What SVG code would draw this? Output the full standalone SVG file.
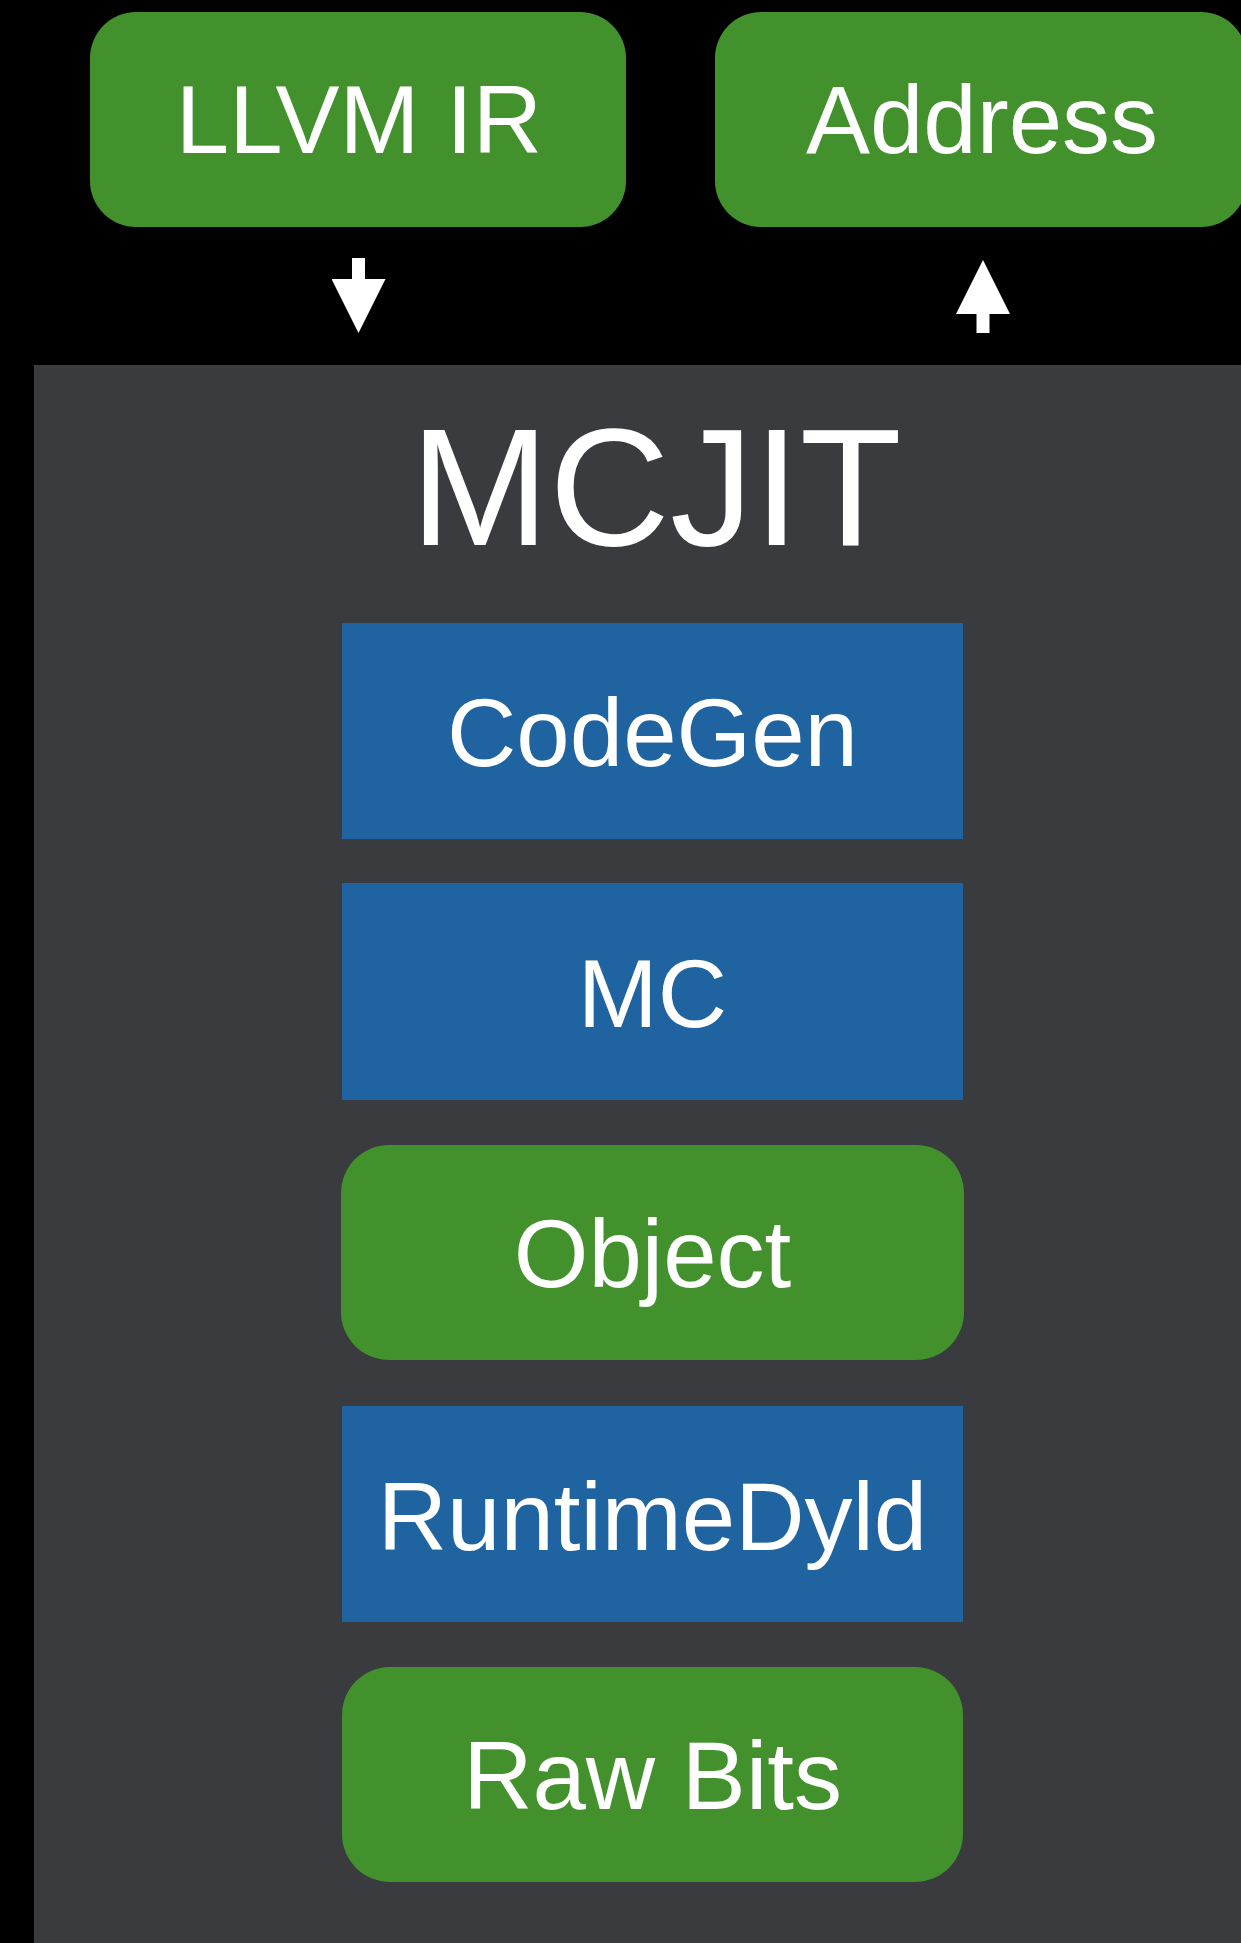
<svg xmlns="http://www.w3.org/2000/svg" width="1241" height="1943" viewBox="0 0 1241 1943">
  <style>
    .data { fill: #42912d; }
    .stage { fill: #1f63a0; }
    .label { font-family: "Liberation Sans", Arial, Helvetica, sans-serif; fill: #ffffff; text-anchor: middle; font-size: 96px; }
    .title { font-family: "Liberation Sans", Arial, Helvetica, sans-serif; fill: #ffffff; text-anchor: middle; font-size: 167px; }
    .flow { stroke: #ffffff; stroke-width: 13; fill: none; }
  </style>
  <defs>
    <marker id="head" viewBox="0 0 54 54" refX="1" refY="27" markerUnits="userSpaceOnUse" markerWidth="54" markerHeight="54" orient="auto">
      <path d="M0,0 L54,27 L0,54 Z" fill="#ffffff"/>
    </marker>
  </defs>

  <!-- background -->
  <rect x="0" y="0" width="1241" height="1943" fill="#000000"/>

  <!-- MCJIT container -->
  <g id="mcjit">
    <rect x="34" y="365" width="1220" height="1590" fill="#3a3b3f"/>
    <text class="title" x="656" y="545">MCJIT</text>
  </g>

  <!-- inputs and outputs -->
  <g id="llvm-ir">
    <rect class="data" x="90" y="12" width="536" height="215" rx="46" ry="46"/>
    <text class="label" x="359" y="153">LLVM IR</text>
  </g>
  <g id="address">
    <rect class="data" x="715" y="12" width="532" height="215" rx="46" ry="46"/>
    <text class="label" x="982" y="153">Address</text>
  </g>

  <!-- pipeline inside MCJIT -->
  <g id="codegen">
    <rect class="stage" x="342" y="623" width="621" height="216"/>
    <text class="label" x="652.5" y="766">CodeGen</text>
  </g>
  <g id="mc">
    <rect class="stage" x="342" y="883" width="621" height="217"/>
    <text class="label" x="652.5" y="1027">MC</text>
  </g>
  <g id="object">
    <rect class="data" x="341" y="1145" width="623" height="215" rx="48" ry="48"/>
    <text class="label" x="652.5" y="1287">Object</text>
  </g>
  <g id="runtimedyld">
    <rect class="stage" x="342" y="1406" width="621" height="216"/>
    <text class="label" x="652.5" y="1550">RuntimeDyld</text>
  </g>
  <g id="raw-bits">
    <rect class="data" x="342" y="1667" width="621" height="215" rx="48" ry="48"/>
    <text class="label" x="652.5" y="1809">Raw Bits</text>
  </g>

  <!-- connectors -->
  <g id="connectors">
    <line class="flow" x1="358.5" y1="258" x2="358.5" y2="280" marker-end="url(#head)"/>
    <line class="flow" x1="983" y1="333" x2="983" y2="313" marker-end="url(#head)"/>
  </g>
</svg>
